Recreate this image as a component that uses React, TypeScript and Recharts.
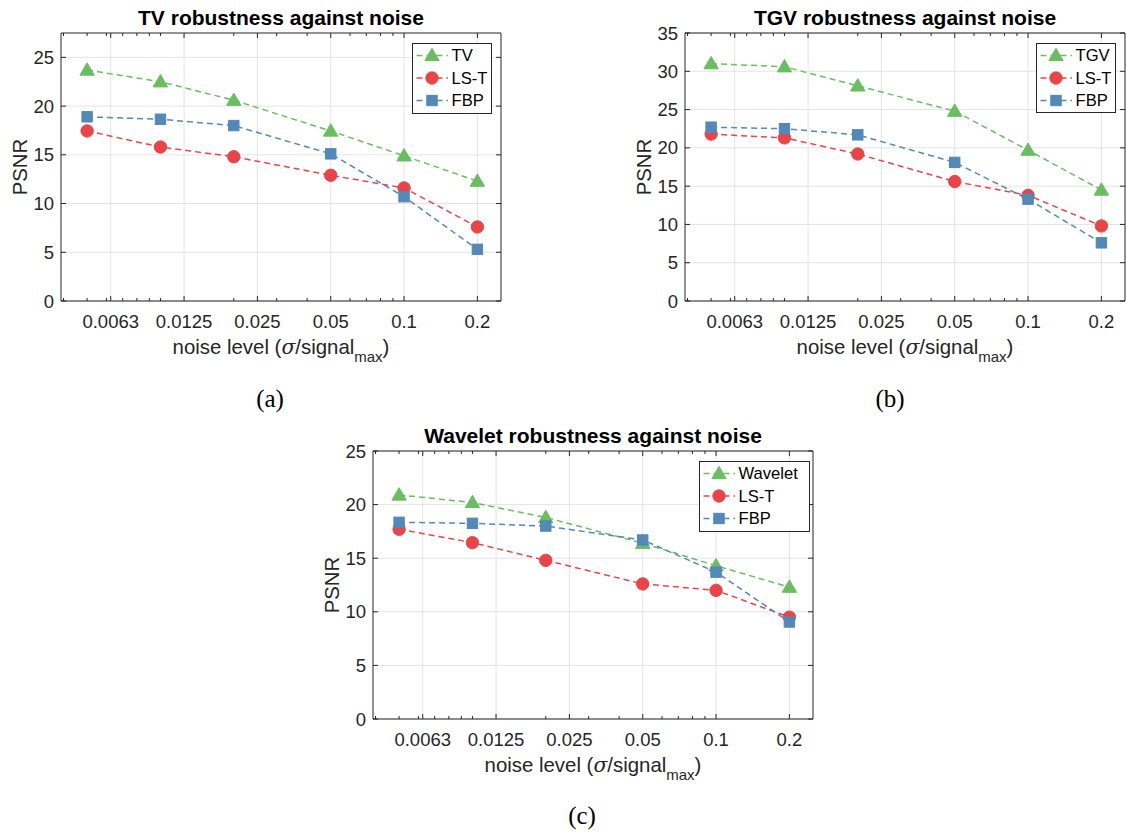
import React from 'react';
import { LineChart, Line, XAxis, YAxis, CartesianGrid, ReferenceLine } from 'recharts';

// ---------- data ----------
const noiseLevels = [0.005, 0.01, 0.02, 0.05, 0.1, 0.2];
const xMajorTicks = [0.00625, 0.0125, 0.025, 0.05, 0.1, 0.2];
const xTickLabels = ['0.0063', '0.0125', '0.025', '0.05', '0.1', '0.2'];
const xMinorTicks = [0.004, 0.005, 0.006, 0.007, 0.008, 0.009, 0.01, 0.02, 0.03, 0.04, 0.06, 0.07, 0.08, 0.09];
const xDomain = [0.00390625, 0.25];

const tvPsnr = [23.7, 22.5, 20.6, 17.45, 14.9, 12.3];
const tvLsT = [17.45, 15.8, 14.8, 12.9, 11.6, 7.6];
const tvFbp = [18.9, 18.65, 18.0, 15.1, 10.7, 5.3];

const tgvPsnr = [31.0, 30.6, 28.1, 24.8, 19.7, 14.5];
const tgvLsT = [21.8, 21.3, 19.2, 15.6, 13.8, 9.8];
const tgvFbp = [22.7, 22.5, 21.7, 18.1, 13.3, 7.6];

const waveletPsnr = [20.9, 20.2, 18.8, 16.4, 14.3, 12.3];
const waveletLsT = [17.7, 16.45, 14.8, 12.6, 12.0, 9.5];
const waveletFbp = [18.35, 18.25, 18.0, 16.7, 13.7, 9.05];

const yTicksA = [0, 5, 10, 15, 20, 25];
const yTicksB = [0, 5, 10, 15, 20, 25, 30, 35];
const yTicksC = [0, 5, 10, 15, 20, 25];

// ---------- style ----------
const GREEN = '#6bbd62';
const RED = '#e8454a';
const BLUE = '#5388b7';
const INK = '#262626';
const GRID = '#e4e4e4';
const SANS = '"Liberation Sans", Arial, Helvetica, sans-serif';
const PLOT_W = 440;

const allXTicks = [...xMinorTicks, ...xMajorTicks].sort((a, b) => a - b);

type Marker = 'triangle' | 'circle' | 'square';

function drawMarker(kind: Marker, cx: number, cy: number, color: string, key?: any) {
  if (cx == null || cy == null || isNaN(cx) || isNaN(cy)) return <g key={key} />;
  if (kind === 'triangle') {
    const s = 7.2;
    const pts = `${cx},${cy - s} ${cx - s},${cy + s * 0.72} ${cx + s},${cy + s * 0.72}`;
    return <polygon key={key} points={pts} fill={color} stroke={color} strokeWidth={1} />;
  }
  if (kind === 'circle') {
    return <circle key={key} cx={cx} cy={cy} r={6.2} fill={color} stroke={color} strokeWidth={1} />;
  }
  return <rect key={key} x={cx - 5.2} y={cy - 5.2} width={10.4} height={10.4} fill={color} stroke={color} strokeWidth={1} />;
}

const renderXTick = (p: any, plotH: number) => {
  const { x, y, payload } = p;
  const idx = xMajorTicks.indexOf(payload.value);
  const major = idx >= 0;
  const len = major ? 5 : 3;
  return (
    <g key={`xt-${payload.value}`}>
      <line x1={x} x2={x} y1={y} y2={y - len} stroke={INK} strokeWidth={1} />
      <line x1={x} x2={x} y1={y - plotH} y2={y - plotH + len} stroke={INK} strokeWidth={1} />
      {major && (
        <text x={x} y={y + 20} textAnchor="middle" dominantBaseline="central" fontSize={18.5} fill={INK} fontFamily={SANS}>
          {xTickLabels[idx]}
        </text>
      )}
    </g>
  );
};

const renderYTick = (p: any) => {
  const { x, y, payload } = p;
  return (
    <g key={`yt-${payload.value}`}>
      <line x1={x} x2={x + 5} y1={y} y2={y} stroke={INK} strokeWidth={1} />
      <line x1={x + PLOT_W - 5} x2={x + PLOT_W} y1={y} y2={y} stroke={INK} strokeWidth={1} />
      <text x={x - 7} y={y} textAnchor="end" dominantBaseline="central" fontSize={18.5} fill={INK} fontFamily={SANS}>
        {payload.value}
      </text>
    </g>
  );
};

type Series = { name: string; values: number[]; color: string; marker: Marker };

type PanelCfg = {
  L: number;
  T: number;
  H: number;
  yMax: number;
  yTicks: number[];
  series: Series[];
  title: string;
  caption: string;
  captionX: number;
  captionY: number;
  legend: { x: number; y: number; w: number; h: number };
};

const panels: PanelCfg[] = [
  {
    L: 61, T: 33, H: 268, yMax: 27.5, yTicks: yTicksA,
    series: [
      { name: 'TV', values: tvPsnr, color: GREEN, marker: 'triangle' },
      { name: 'LS-T', values: tvLsT, color: RED, marker: 'circle' },
      { name: 'FBP', values: tvFbp, color: BLUE, marker: 'square' },
    ],
    title: 'TV robustness against noise', caption: '(a)', captionX: 270, captionY: 398,
    legend: { x: 412, y: 43, w: 79, h: 70 },
  },
  {
    L: 685, T: 33, H: 268, yMax: 35, yTicks: yTicksB,
    series: [
      { name: 'TGV', values: tgvPsnr, color: GREEN, marker: 'triangle' },
      { name: 'LS-T', values: tgvLsT, color: RED, marker: 'circle' },
      { name: 'FBP', values: tgvFbp, color: BLUE, marker: 'square' },
    ],
    title: 'TGV robustness against noise', caption: '(b)', captionX: 890, captionY: 398,
    legend: { x: 1036, y: 43, w: 79, h: 69 },
  },
  {
    L: 373, T: 451, H: 268, yMax: 25, yTicks: yTicksC,
    series: [
      { name: 'Wavelet', values: waveletPsnr, color: GREEN, marker: 'triangle' },
      { name: 'LS-T', values: waveletLsT, color: RED, marker: 'circle' },
      { name: 'FBP', values: waveletFbp, color: BLUE, marker: 'square' },
    ],
    title: 'Wavelet robustness against noise', caption: '(c)', captionX: 582, captionY: 815,
    legend: { x: 699, y: 461, w: 110, h: 70 },
  },
];

function PanelChart({ cfg }: { cfg: PanelCfg }) {
  const { L, T, H, yMax, yTicks, series } = cfg;
  const data = noiseLevels.map((x, i) => ({
    x,
    s0: series[0].values[i],
    s1: series[1].values[i],
    s2: series[2].values[i],
  }));
  const mTop = 30;
  const yW = 50;
  return (
    <div style={{ position: 'absolute', left: L - yW, top: T - mTop }}>
      <LineChart width={yW + PLOT_W + 2} height={mTop + H + 45} data={data} margin={{ top: mTop, right: 2, bottom: 0, left: 0 }}>
        <CartesianGrid stroke={GRID} strokeWidth={1} verticalValues={xMajorTicks} horizontalValues={yTicks} />
        <XAxis
          dataKey="x" type="number" scale="log" domain={xDomain} ticks={allXTicks} interval={0}
          tickSize={0} tickMargin={0} tickLine={false} axisLine={{ stroke: INK, strokeWidth: 1 }}
          height={45} tick={(p: any) => renderXTick(p, H)} allowDataOverflow
        />
        <YAxis
          type="number" domain={[0, yMax]} ticks={yTicks} interval={0} width={yW}
          tickSize={0} tickMargin={0} tickLine={false} axisLine={{ stroke: INK, strokeWidth: 1 }}
          tick={renderYTick} allowDataOverflow
        />
        <ReferenceLine y={yMax} stroke={INK} strokeWidth={1} />
        <ReferenceLine x={xDomain[1]} stroke={INK} strokeWidth={1} />
        {series.map((s, si) => (
          <Line
            key={s.name}
            dataKey={`s${si}`}
            type="linear"
            stroke={s.color}
            strokeWidth={1.5}
            strokeDasharray="6 4"
            isAnimationActive={false}
            activeDot={false}
            dot={(p: any) => drawMarker(s.marker, p.cx, p.cy, s.color, `${s.name}-${p.index}`)}
          />
        ))}
      </LineChart>
    </div>
  );
}

function Annotations({ cfg }: { cfg: PanelCfg }) {
  const { L, T, H, series, title, caption, captionX, captionY, legend } = cfg;
  const cx = L + PLOT_W / 2;
  return (
    <g>
      <text x={cx} y={T - 16} textAnchor="middle" dominantBaseline="central" fontWeight="bold" fontSize={21} fill="#000" fontFamily={SANS}>
        {title}
      </text>
      <text
        transform={`translate(${L - 41.5}, ${T + H / 2}) rotate(-90)`}
        textAnchor="middle" dominantBaseline="central" fontSize={20.4} fill={INK} fontFamily={SANS}
      >
        PSNR
      </text>
      <text x={cx} y={T + H + 46} textAnchor="middle" dominantBaseline="central" fontSize={20.4} fill={INK} fontFamily={SANS}>
        noise level (<tspan fontFamily='"DejaVu Serif", serif' fontStyle="italic">σ</tspan>/signal
        <tspan fontSize={15} dy={9}>max</tspan>
        <tspan dy={-9}>)</tspan>
      </text>
      <text x={captionX} y={captionY} textAnchor="middle" dominantBaseline="central" fontSize={25} fill="#000" fontFamily='"Liberation Serif", "Times New Roman", serif'>
        {caption}
      </text>
      <rect x={legend.x + 0.5} y={legend.y + 0.5} width={legend.w} height={legend.h} fill="#fff" stroke={INK} strokeWidth={1} />
      {series.map((s, i) => {
        const ry = legend.y + 12.5 + i * 22.5;
        return (
          <g key={s.name}>
            <line x1={legend.x + 4.5} x2={legend.x + 36} y1={ry} y2={ry} stroke={s.color} strokeWidth={1.5} strokeDasharray="6 4" />
            {drawMarker(s.marker, legend.x + 20, ry, s.color)}
            <text x={legend.x + 39.5} y={ry} dominantBaseline="central" fontSize={16.6} fill="#000" fontFamily={SANS}>
              {s.name}
            </text>
          </g>
        );
      })}
    </g>
  );
}

export default function App() {
  return (
    <div style={{ position: 'absolute', left: 0, top: 0, width: 1126, height: 834, background: '#fff', overflow: 'hidden' }}>
      {panels.map((p) => (
        <PanelChart key={p.title} cfg={p} />
      ))}
      <svg width={1126} height={834} style={{ position: 'absolute', left: 0, top: 0, pointerEvents: 'none' }}>
        {panels.map((p) => (
          <Annotations key={p.title} cfg={p} />
        ))}
      </svg>
    </div>
  );
}
